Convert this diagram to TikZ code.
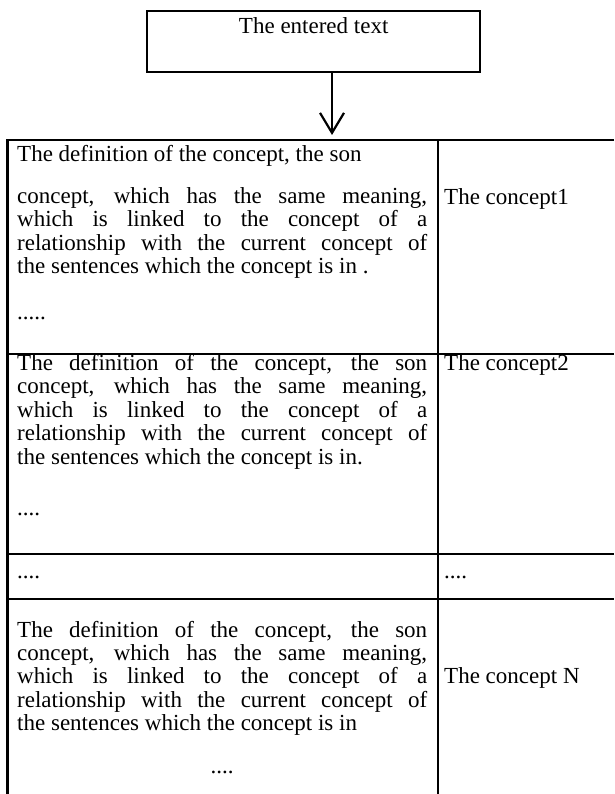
\documentclass[tikz,border=0pt]{standalone}
\usepackage{fontspec}
\setmainfont{Liberation Serif}
\usetikzlibrary{arrows.meta}
\newcommand{\jline}[1]{\makebox[410pt][s]{#1}}
\begin{document}
\begin{tikzpicture}[x=1pt,y=-1pt,
  txt/.style={anchor=base west, inner sep=0pt, font=\fontsize{23pt}{23.4pt}\selectfont},
  rule/.style={line width=2.2pt},
  topbox/.style={draw, line width=2.4pt, inner sep=0pt, minimum width=333pt,
     text height=22.5pt, text depth=38.2pt, font=\fontsize{23pt}{23.4pt}\selectfont},
  flow/.style={line width=2.2pt, -{Straight Barb[length=20pt,width=24pt]}}
  ]
\useasboundingbox (0,0) rectangle (614,794);

% top box
\node[topbox, anchor=north west] (entered) at (146,10) {The entered text};

% table frame
\coordinate (tl) at (7.5,140);
\coordinate (tr) at (614,140);
\coordinate (bl) at (7.5,794);
\coordinate (dt) at (437.7,140);
\coordinate (db) at (437.7,794);
\coordinate (r1l) at (7.5,354);  \coordinate (r1r) at (614,354);
\coordinate (r2l) at (7.5,554);  \coordinate (r2r) at (614,554);
\coordinate (r3l) at (7.5,599);  \coordinate (r3r) at (614,599);

\draw[rule] (tr) -- (tl) -- (bl);
\draw[rule] (dt) -- (db);
\draw[rule] (r1l) -- (r1r);
\draw[rule] (r2l) -- (r2r);
\draw[rule] (r3l) -- (r3r);

% arrow
\coordinate (tabletop) at (332,135);
\draw[flow] (entered.south -| tabletop) -- (tabletop);

% row 1
\node[txt] (def1) at (17,161.5) {\parbox[t]{410pt}{The definition of the concept, the son\\[18.5pt]
\jline{concept, which has the same meaning,}\\
\jline{which is linked to the concept of a}\\
\jline{relationship with the current concept of}\\
the sentences which the concept is in .\\[22.2pt]
.....}};
\node[txt] (con1) at (444,204.5) {The concept1};

% row 2
\node[txt] (def2) at (17,370.5) {\parbox[t]{410pt}{\jline{The definition of the concept, the son}\\
\jline{concept, which has the same meaning,}\\
\jline{which is linked to the concept of a}\\
\jline{relationship with the current concept of}\\
the sentences which the concept is in.\\[28pt]
....}};
\node[txt] (con2) at (444,370.5) {The concept2};

% row 3
\node[txt] (dots3l) at (17,578) {....};
\node[txt] (dots3r) at (444,578) {....};

% row 4
\node[txt] (def4) at (17,637) {\parbox[t]{410pt}{\jline{The definition of the concept, the son}\\
\jline{concept, which has the same meaning,}\\
\jline{which is linked to the concept of a}\\
\jline{relationship with the current concept of}\\
the sentences which the concept is in\\[19pt]
\makebox[410pt][c]{....}}};
\node[txt] (conN) at (444,683) {The concept N};
\end{tikzpicture}
\end{document}
